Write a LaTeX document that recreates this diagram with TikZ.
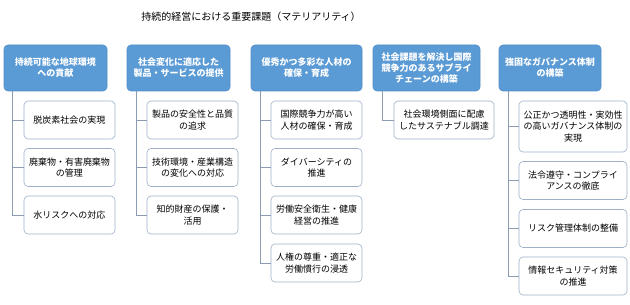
\documentclass[tikz,border=0pt]{standalone}
\usepackage{fontspec}
\setmainfont{Noto Sans CJK JP}
\newfontfamily\jp{Noto Sans CJK JP}
\definecolor{hdrfill}{HTML}{5B9BD5}
\definecolor{hdrdraw}{HTML}{4F8CC6}
\definecolor{kidline}{HTML}{9DB0C8}
\definecolor{conline}{HTML}{8C9DB3}
\begin{document}
\begin{tikzpicture}[x=1pt,y=-1pt,
  hdr/.style={draw=hdrdraw,fill=hdrfill,rounded corners=4pt,line width=0.6pt,
    text=white,font=\jp\bfseries\fontsize{9}{11}\selectfont,align=center,
    inner sep=0pt,minimum height=46pt},
  kid/.style={draw=kidline,fill=white,rounded corners=4pt,line width=0.6pt,
    text=black,font=\jp\fontsize{9}{11.5}\selectfont,align=center,
    inner sep=0pt,minimum height=38pt},
  con/.style={draw=conline,line width=0.7pt}]
\useasboundingbox (0,0) rectangle (630,305);
\node[font=\jp\fontsize{10}{12}\selectfont] (title) at (251,17) {持続的経営における重要課題（マテリアリティ）};
% headers
\node[hdr,minimum width=103pt] (h1) at (55.5,68) {持続可能な地球環境\\への貢献};
\node[hdr,minimum width=103pt] (h2) at (178.5,68) {社会変化に適応した\\製品・サービスの提供};
\node[hdr,minimum width=111pt] (h3) at (306.5,68) {優秀かつ多彩な人材の\\確保・育成};
\node[hdr,minimum width=107pt] (h4) at (426.5,68) {社会課題を解決し国際\\競争力のあるサプライ\\チェーンの構築};
\node[hdr,minimum width=102pt] (h5) at (550,68) {強固なガバナンス体制\\の構築};
% column 1
\node[kid,minimum width=91pt] (a1) at (69.5,120) {脱炭素社会の実現};
\node[kid,minimum width=91pt] (a2) at (69.5,167.5) {廃棄物・有害廃棄物\\の管理};
\node[kid,minimum width=91pt] (a3) at (69.5,215) {水リスクへの対応};
% column 2
\node[kid,minimum width=91pt] (b1) at (192.5,120) {製品の安全性と品質\\の追求};
\node[kid,minimum width=91pt] (b2) at (192.5,167.5) {技術環境・産業構造\\の変化への対応};
\node[kid,minimum width=91pt] (b3) at (192.5,215) {知的財産の保護・\\活用};
% column 3
\node[kid,minimum width=91pt] (c1) at (316.5,120) {国際競争力が高い\\人材の確保・育成};
\node[kid,minimum width=91pt] (c2) at (316.5,167.5) {ダイバーシティの\\推進};
\node[kid,minimum width=91pt] (c3) at (316.5,215) {労働安全衛生・健康\\経営の推進};
\node[kid,minimum width=91pt] (c4) at (316.5,263) {人権の尊重・適正な\\労働慣行の浸透};
% column 4
\node[kid,minimum width=100pt] (d1) at (444,120) {社会環境側面に配慮\\したサステナブル調達};
% column 5
\node[kid,minimum width=108pt,minimum height=51pt] (e1) at (573,126.5) {公正かつ透明性・実効性\\の高いガバナンス体制の\\実現};
\node[kid,minimum width=108pt] (e2) at (573,180.5) {法令遵守・コンプライ\\アンスの徹底};
\node[kid,minimum width=108pt] (e3) at (573,228.5) {リスク管理体制の整備};
\node[kid,minimum width=108pt] (e4) at (573,276) {情報セキュリティ対策\\の推進};
% connectors
\foreach \k in {a1,a2,a3} \draw[con] ([xshift=9pt]h1.south west) |- (\k.west);
\foreach \k in {b1,b2,b3} \draw[con] ([xshift=10pt]h2.south west) |- (\k.west);
\foreach \k in {c1,c2,c3,c4} \draw[con] ([xshift=10pt]h3.south west) |- (\k.west);
\foreach \k in {d1} \draw[con] ([xshift=10pt]h4.south west) |- (\k.west);
\foreach \k in {e1,e2,e3,e4} \draw[con] ([xshift=10pt]h5.south west) |- (\k.west);
\end{tikzpicture}
\end{document}
